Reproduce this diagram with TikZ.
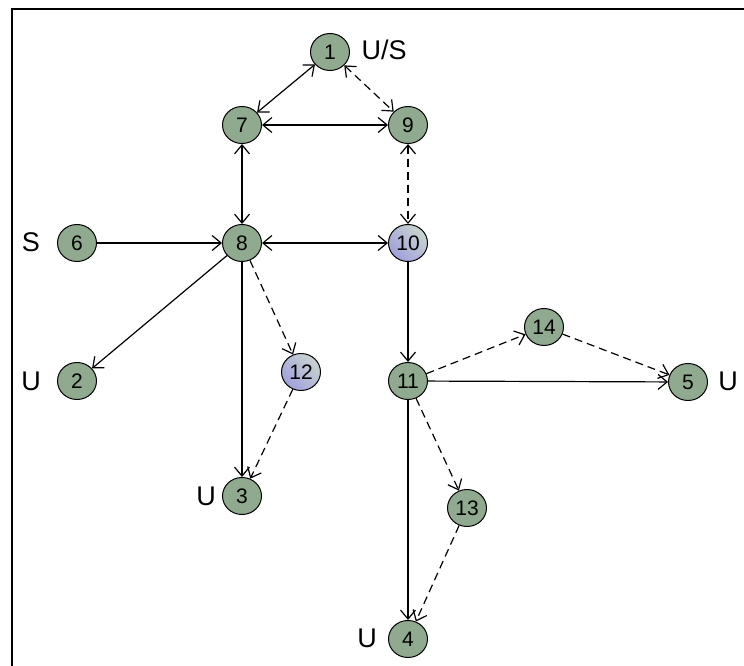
\documentclass[tikz,border=0pt]{standalone}
\usepackage{fontspec}
\setmainfont{Liberation Sans}
\usetikzlibrary{arrows.meta,shapes.geometric}

\definecolor{statefill}{RGB}{143,170,142}
\definecolor{blueshade}{RGB}{160,160,220}
\definecolor{paleshade}{RGB}{240,240,250}

\begin{document}
\begin{tikzpicture}[x=1pt,y=-1pt,
    state/.style={draw,ellipse,line width=1pt,fill=statefill,minimum width=39pt,
      minimum height=37pt,inner sep=0pt,font=\fontsize{21}{21}\selectfont},
    shaded/.style={state,left color=blueshade,middle color=paleshade,
      right color=paleshade!60!statefill,shading angle=135},
    tag/.style={font=\fontsize{27}{27}\selectfont},
    >={Straight Barb[length=9pt,width=15pt]},
    every edge/.style={draw,line width=1.2pt},
    dashline/.style={dash pattern=on 8pt off 5pt}]
  \useasboundingbox (0,0) rectangle (744,666);
  \draw[line width=2pt] (12,666) -- (12,9) -- (744,9);

  \node[state] (n1) at (330,52) {1};
  \node[state] (n7) at (242,125) {7};
  \node[state] (n9) at (408,125) {9};
  \node[state] (n6) at (77,243) {6};
  \node[state] (n8) at (242,243) {8};
  \node[shaded] (n10) at (408,243) {10};
  \node[state] (n2) at (77,381) {2};
  \node[shaded] (n12) at (301,372) {12};
  \node[state] (n11) at (408,381) {11};
  \node[state] (n14) at (544,327) {14};
  \node[state] (n5) at (688,382) {5};
  \node[state] (n3) at (242,496) {3};
  \node[state] (n13) at (467,508) {13};
  \node[state] (n4) at (408,639) {4};

  \node[tag,anchor=west] (us) at (358,50) {U/S};
  \node[tag] (s6) at (31,242) {S};
  \node[tag] (u2) at (31,381) {U};
  \node[tag] (u5) at (728,381) {U};
  \node[tag] (u3) at (206,496) {U};
  \node[tag] (u4) at (367,638) {U};

  \draw[<->] (n1) edge (n7);
  \draw[<->] (n1) edge[dashline] (n9);
  \draw[<->] (n7) edge (n9);
  \draw[<->] (n7) edge (n8);
  \draw[<->] (n9) edge[dashline] (n10);
  \draw[->] (n6) edge (n8);
  \draw[<->] (n8) edge (n10);
  \draw[->] (n8) edge (n2);
  \draw[->] (n8) edge (n3);
  \draw[->] (n8) edge[dashline] (n12);
  \draw[->] (n12) edge[dashline] (n3);
  \draw[->] (n10) edge (n11);
  \draw[->] (n11) edge[dashline] (n14);
  \draw[->] (n14) edge[dashline] (n5);
  \draw[->] (n11) edge (n5);
  \draw[->] (n11) edge[dashline] (n13);
  \draw[->] (n13) edge[dashline] (n4);
  \draw[->] (n11) edge (n4);
\end{tikzpicture}
\end{document}
